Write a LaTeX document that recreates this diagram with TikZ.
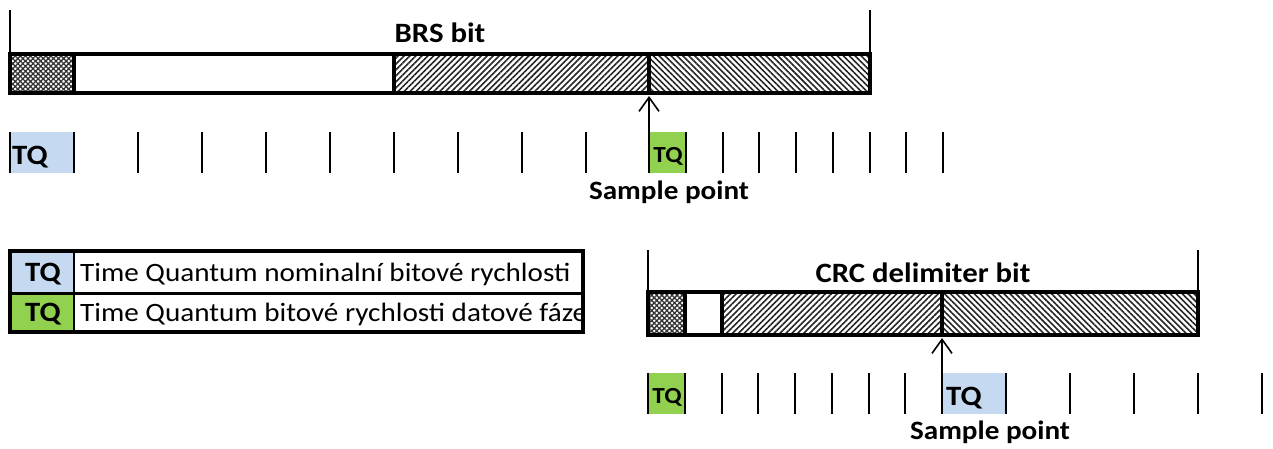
\documentclass[tikz,border=0pt]{standalone}
\usepackage{fontspec}
\setmainfont{Carlito}[FakeStretch=1.1]
\usetikzlibrary{arrows.meta,patterns.meta}
\definecolor{tqblue}{RGB}{197,217,241}
\definecolor{tqgreen}{RGB}{146,208,80}
\tikzset{
  bitframe/.style={line width=4pt},
  bitedge/.style={line width=2pt},
  tqtick/.style={line width=2pt},
  syncseg/.style={pattern={Hatch[angle=45,distance=3.6pt,line width=1.3pt]},pattern color=black!80},
  propseg/.style={pattern={Lines[angle=45,distance=4.2pt,line width=1.6pt]},pattern color=black!85},
  phaseseg/.style={pattern={Lines[angle=-45,distance=4.2pt,line width=1.6pt]},pattern color=black!85},
  sparrow/.style={line width=1.6pt,-{Straight Barb[length=14pt,width=20pt,line width=1.6pt]}},
  bittitle/.style={font=\fontsize{28}{33}\selectfont\bfseries,inner sep=0pt,anchor=base},
  samplelabel/.style={font=\fontsize{26.5}{31}\selectfont\bfseries,inner sep=0pt,anchor=base},
  tqlabel/.style={font=\fontsize{28}{33}\selectfont\bfseries,inner sep=0pt},
  tqsmall/.style={font=\fontsize{23}{28}\selectfont\bfseries,inner sep=0pt},
  legendtext/.style={font=\fontsize{26.5}{31}\selectfont,inner sep=0pt,anchor=base west},
}
\begin{document}
\begin{tikzpicture}[x=1pt,y=-1pt]
\useasboundingbox (0,0) rectangle (1273,448);

% ---------------- BRS bit ----------------
\path[syncseg]  (10,54) rectangle (74,93);
\path[propseg]  (394,54) rectangle (649,93);
\path[phaseseg] (649,54) rectangle (870,93);
\draw[bitframe] (10,54) rectangle (870,93);
\foreach \x in {74,394,649} \draw[bitframe] (\x,54) -- (\x,93);
\draw[bitedge] (10,10) -- (10,54);
\draw[bitedge] (870,10) -- (870,54);
\node[bittitle] (brstitle) at (440,42) {BRS bit};

% time quanta below the BRS bit
\fill[tqblue]  (10,132) rectangle (74,173);
\fill[tqgreen] (649,132) rectangle (685.75,173);
\foreach \x in {10,74,...,586} \draw[tqtick] (\x,132) -- (\x,173);
\foreach \k in {0,...,8} \draw[tqtick] (649+36.75*\k,132) -- (649+36.75*\k,173);
\node[tqlabel,anchor=base west] (brstqa) at (12,164) {TQ};
\node[tqsmall,anchor=base] (brstqb) at (668,162) {TQ};

\coordinate (brssp) at (649,96);
\coordinate (brstick) at (649,173);
\draw[sparrow] (brstick) -- (brssp);
\node[samplelabel] (brssample) at (669,199) {Sample point};

% ---------------- legend ----------------
\fill[tqblue]  (10,251) rectangle (74,293);
\fill[tqgreen] (10,293) rectangle (74,332);
\begin{scope}
  \clip (74,251) rectangle (581,332);
  \node[legendtext] (lega) at (80,281) {Time Quantum nominalní bitové rychlosti};
  \node[legendtext] (legb) at (80,321) {Time Quantum bitové rychlosti datové fáze};
\end{scope}
\node[tqlabel,anchor=base] (legtqa) at (43,281) {TQ};
\node[tqlabel,anchor=base] (legtqb) at (43,321) {TQ};
\draw[line width=3pt] (10,293) -- (583,293);
\draw[line width=2pt] (74,251) -- (74,332);
\draw[bitframe] (10,251) rectangle (583,332);

% ---------------- CRC delimiter bit ----------------
\path[syncseg]  (648,292) rectangle (684.75,335);
\path[propseg]  (721.5,292) rectangle (942,335);
\path[phaseseg] (942,292) rectangle (1198,335);
\draw[bitframe] (648,292) rectangle (1198,335);
\foreach \x in {684.75,721.5,942} \draw[bitframe] (\x,292) -- (\x,335);
\draw[bitedge] (648,250) -- (648,292);
\draw[bitedge] (1198,250) -- (1198,292);
\node[bittitle] (crctitle) at (923,282) {CRC delimiter bit};

% time quanta below the CRC delimiter bit
\fill[tqgreen] (648,373) rectangle (684.75,414);
\fill[tqblue]  (942,373) rectangle (1006,414);
\foreach \k in {0,...,8} \draw[tqtick] (648+36.75*\k,373) -- (648+36.75*\k,414);
\foreach \x in {1006,1070,...,1262} \draw[tqtick] (\x,373) -- (\x,414);
\node[tqsmall,anchor=base] (crctqa) at (667,403) {TQ};
\node[tqlabel,anchor=base west] (crctqb) at (946,405) {TQ};

\coordinate (crcsp) at (942,338);
\coordinate (crctick) at (942,414);
\draw[sparrow] (crctick) -- (crcsp);
\node[samplelabel] (crcsample) at (990,439) {Sample point};
\end{tikzpicture}
\end{document}
